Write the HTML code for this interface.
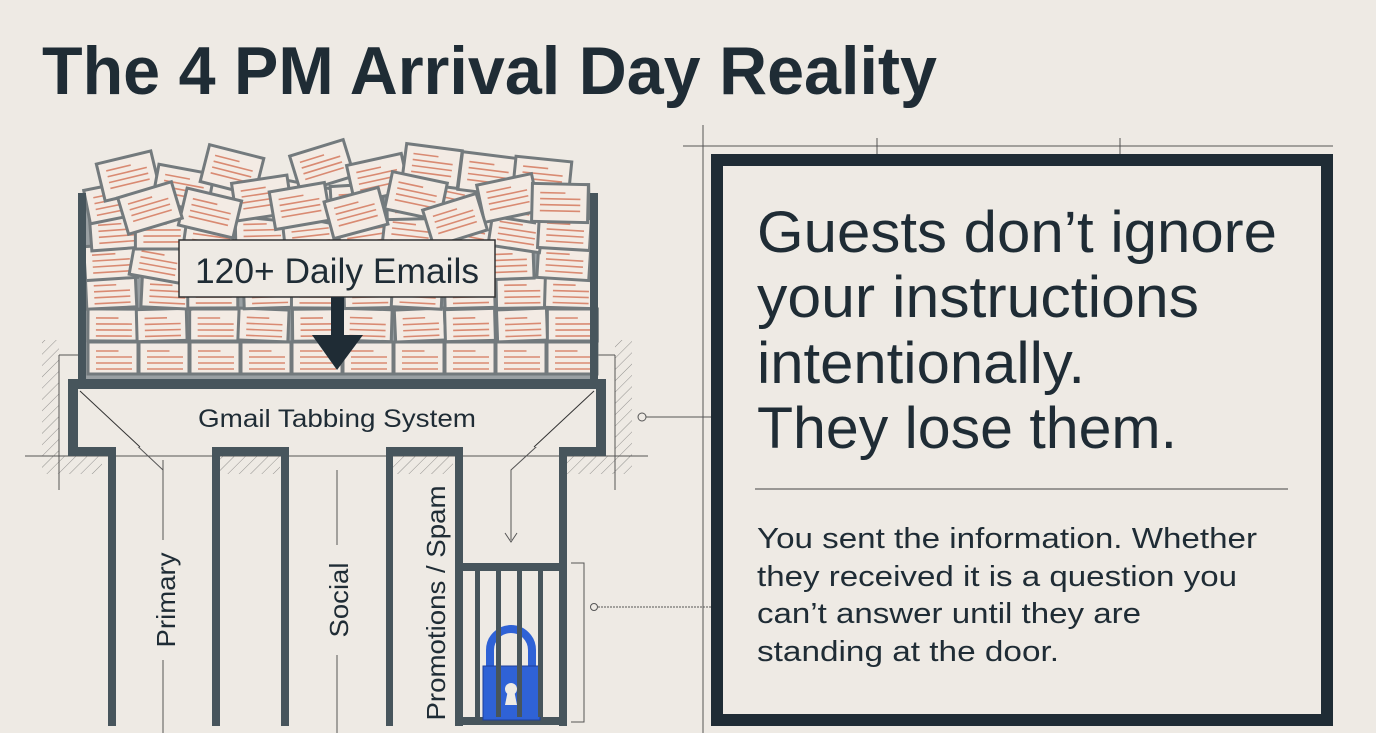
<!DOCTYPE html>
<html><head><meta charset="utf-8"><style>
html,body{margin:0;padding:0;background:#eeeae4;}
svg{display:block;}
text{font-family:"Liberation Sans",sans-serif;fill:#1f2c35;}
</style></head><body>
<svg id="s" width="1376" height="733" viewBox="0 0 1376 733" xmlns="http://www.w3.org/2000/svg">
<defs>
<pattern id="h" width="8" height="8" patternUnits="userSpaceOnUse" patternTransform="rotate(45)">
<line x1="0" y1="0" x2="0" y2="8" stroke="#555" stroke-width="1"/>
</pattern>
</defs>
<rect width="1376" height="733" fill="#eeeae4"/>
<text x="42" y="94" font-size="68" font-weight="bold" textLength="895" lengthAdjust="spacingAndGlyphs">The 4 PM Arrival Day Reality</text>

<rect x="42" y="340" width="17" height="116" fill="url(#h)" opacity=".6"/>
<rect x="615" y="340" width="17" height="116" fill="url(#h)" opacity=".6"/>
<rect x="42" y="456" width="60" height="18" fill="url(#h)" opacity=".6"/>
<rect x="220" y="456" width="60" height="18" fill="url(#h)" opacity=".6"/>
<rect x="393" y="456" width="60" height="18" fill="url(#h)" opacity=".6"/>
<rect x="567" y="456" width="65" height="18" fill="url(#h)" opacity=".6"/>
<g stroke="#555" stroke-width="1" fill="none">
<line x1="25" y1="456" x2="648" y2="456"/>
<line x1="59" y1="355" x2="59" y2="490"/>
<line x1="615" y1="355" x2="615" y2="490"/>
<line x1="59" y1="355" x2="78" y2="355"/>
<line x1="598" y1="355" x2="615" y2="355"/>
<line x1="683" y1="146" x2="1333" y2="146"/>
<line x1="703" y1="125" x2="703" y2="733"/>
<line x1="877" y1="138" x2="877" y2="154"/>
<line x1="1120" y1="138" x2="1120" y2="154"/>
<line x1="646" y1="417" x2="711" y2="417"/>
<circle cx="642" cy="417" r="4" fill="#eeeae4"/>
<line x1="598" y1="607" x2="711" y2="607" stroke-dasharray="2 1"/>
<circle cx="594" cy="607" r="3.5" fill="#eeeae4"/>
<polyline points="571,563 584,563 584,722 571,722"/>
<line x1="163" y1="460" x2="163" y2="540"/>
<line x1="163" y1="660" x2="163" y2="733"/>
<line x1="337" y1="470" x2="337" y2="545"/>
<line x1="337" y1="655" x2="337" y2="733"/>
<polyline points="80,392 163,470"/>
<polyline points="596,392 511,470 511,540"/>
<polyline points="505,533 511,542 517,533"/>
</g>

<g id="emails"></g>

<g fill="#47555c">
<rect x="78" y="193" width="8" height="190"/>
<rect x="590" y="193" width="8" height="190"/>
</g>
<path d="M68 379 H606 V456 H567 V726 H559 V447 H596 V389 H78 V447 H116 V726 H108 V456 H68 Z" fill="#47555c"/>
<rect x="78" y="389" width="518" height="58" fill="#eeeae4"/>
<g stroke="#333" stroke-width="1"><line x1="80" y1="391" x2="140" y2="447"/><line x1="594" y1="391" x2="534" y2="447"/></g>
<text x="337" y="427" font-size="25" text-anchor="middle" textLength="278" lengthAdjust="spacingAndGlyphs">Gmail Tabbing System</text>
<path d="M212 447 H289 V726 H281 V456 H220 V726 H212 Z" fill="#47555c"/>
<path d="M386 447 H463 V726 H455 V456 H393 V726 H386 Z" fill="#47555c"/>
<rect x="455" y="563" width="112" height="8" fill="#47555c"/>
<rect x="455" y="717" width="112" height="8" fill="#47555c"/>
<path d="M490 668 V650 A21 21 0 0 1 532 650 V668" fill="none" stroke="#2f62d6" stroke-width="8"/>
<rect x="483" y="666" width="57" height="54" fill="#2f62d6" stroke="#1d3f99" stroke-width="1"/>
<circle cx="511" cy="689" r="6" fill="#eeeae4"/>
<path d="M508 690 L505 705 H517 L514 690 Z" fill="#eeeae4"/>
<g fill="#47555c">
<rect x="475" y="571" width="5" height="146"/>
<rect x="496" y="571" width="5" height="146"/>
<rect x="517" y="571" width="5" height="146"/>
<rect x="538" y="571" width="5" height="146"/>
</g>
<text transform="translate(175,600) rotate(-90)" font-size="26" text-anchor="middle" textLength="95" lengthAdjust="spacingAndGlyphs">Primary</text>
<text transform="translate(348,600) rotate(-90)" font-size="26" text-anchor="middle" textLength="75" lengthAdjust="spacingAndGlyphs">Social</text>
<text transform="translate(445,603) rotate(-90)" font-size="26" text-anchor="middle" textLength="235" lengthAdjust="spacingAndGlyphs">Promotions / Spam</text>

<rect x="179" y="240" width="316" height="57" fill="#eeeae4" stroke="#333" stroke-width="1.5"/>
<text x="337" y="283" font-size="35" text-anchor="middle" textLength="284" lengthAdjust="spacingAndGlyphs">120+ Daily Emails</text>
<rect x="331" y="297" width="13" height="40" fill="#1f2c35"/>
<polygon points="312,335 363,335 337,370" fill="#1f2c35"/>

<rect x="717" y="160" width="610" height="560" fill="none" stroke="#1f2c35" stroke-width="12"/>
<g font-size="58">
<text x="757" y="252" textLength="520" lengthAdjust="spacingAndGlyphs">Guests don’t ignore</text>
<text x="757" y="317" textLength="442" lengthAdjust="spacingAndGlyphs">your instructions</text>
<text x="757" y="383" textLength="328" lengthAdjust="spacingAndGlyphs">intentionally.</text>
<text x="757" y="448" textLength="420" lengthAdjust="spacingAndGlyphs">They lose them.</text>
</g>
<line x1="755" y1="489" x2="1288" y2="489" stroke="#444" stroke-width="1"/>
<g font-size="29">
<text x="757" y="548" textLength="500" lengthAdjust="spacingAndGlyphs">You sent the information. Whether</text>
<text x="757" y="586" textLength="480" lengthAdjust="spacingAndGlyphs">they received it is a question you</text>
<text x="757" y="623" textLength="384" lengthAdjust="spacingAndGlyphs">can’t answer until they are</text>
<text x="757" y="661" textLength="302" lengthAdjust="spacingAndGlyphs">standing at the door.</text>
</g>
</svg>
<script>
(function(){
var g=document.getElementById('emails'),out='';
var seed=7;function r(){seed=(seed*9301+49297)%233280;return seed/233280;}
function card(x,y,w,h,a){
 var s='<g transform="translate('+x+','+y+') rotate('+a+')">';
 s+='<rect x="'+(-w/2)+'" y="'+(-h/2)+'" width="'+w+'" height="'+h+'" fill="#f3ebe4" stroke="#737a7d" stroke-width="3"/>';
 for(var i=0;i<4;i++){var yy=-h/2+9+i*6;var lw=(i==0?w*0.45:w*0.72);
 s+='<line x1="'+(-w/2+8)+'" y1="'+yy+'" x2="'+(-w/2+8+lw)+'" y2="'+yy+'" stroke="#d98a72" stroke-width="1.6"/>';}
 return s+'</g>';}
out+='<rect x="86" y="195" width="504" height="185" fill="#9aa0a3"/>';
for(var row=0;row<3;row++){var y=358-row*33;
 for(var x=113;x<590;x+=51){out+=card(x+(row?(r()-.5)*6:0),y,50,32,(row==0?0:(r()-.5)*6));}}
for(var row=0;row<3;row++){var y=262-row*30;
 for(var x=112;x<590;x+=50){out+=card(x+(r()-.5)*10,y,52,34,(r()-.5)*24);}}
var top=[[128,176],[183,188],[232,170],[262,198],[322,166],[378,178],[432,166],[488,174],[542,178],[210,213],[300,206],[416,196],[508,198],[150,208],[356,213],[455,220],[560,203]];
top.forEach(function(p){out+=card(p[0],p[1],56,38,(r()-.5)*36);});
g.innerHTML=out;
})();
</script>
</body></html>
